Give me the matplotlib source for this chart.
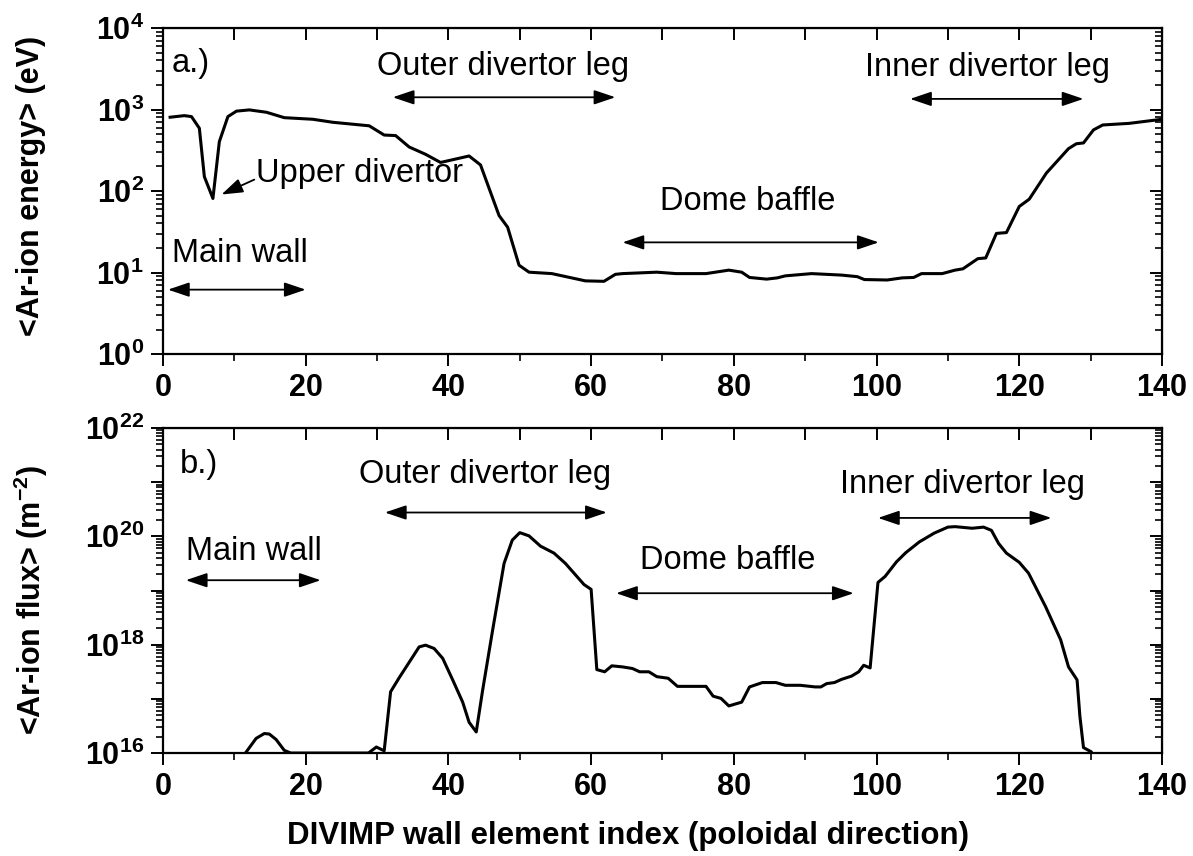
import numpy as np
import matplotlib
matplotlib.use("Agg")
import matplotlib.pyplot as plt
from matplotlib.ticker import LogLocator, FuncFormatter, MultipleLocator, NullFormatter

plt.rcParams['font.family'] = ['Liberation Sans', 'DejaVu Sans']
plt.rcParams['mathtext.fontset'] = 'custom'
plt.rcParams['mathtext.rm'] = 'Liberation Sans'
plt.rcParams['mathtext.bf'] = 'Liberation Sans:bold'

# panel a: mean Ar-ion energy (eV) vs wall element index
x_energy = [1, 3, 4, 5.1, 5.8, 7, 7.9, 9.1, 10.3, 12.1, 14.5, 17, 21, 23.8, 28.9,
            31, 32.6, 34.5, 36.8, 38.9, 42.9, 44.5, 47.1, 48.3, 49.9, 51.3, 54.5,
            59.2, 61.8, 63.4, 64.4, 69.2, 71.9, 76.1, 79.3, 81.1, 82.2, 84.6, 86.1,
            87.2, 90.9, 95.1, 97.3, 98.3, 101.5, 103.6, 105.2, 106.3, 109.2, 111.0,
            112.1, 114.2, 115.3, 116.8, 118.2, 120.0, 121.4, 123.8, 126.9, 128.0,
            129.0, 130.4, 131.7, 135.4, 140]
energy = [804, 841, 818, 589, 150, 81, 403, 818, 955, 989, 925, 794, 759, 697, 631,
          486, 479, 347, 282, 224, 269, 209, 50, 36, 12.3, 10.1, 9.7,
          7.9, 7.8, 9.5, 9.7, 10.1, 9.7, 9.7, 10.7, 10.1, 8.7, 8.3, 8.6,
          9.1, 9.7, 9.3, 8.9, 8.2, 8.1, 8.6, 8.7, 9.7, 9.7, 10.7,
          11.1, 14.8, 15.1, 30.2, 30.9, 64.6, 79.4, 166, 331, 380,
          389, 562, 646, 676, 759]

# panel b: mean Ar-ion flux (m^-2) vs wall element index
x_flux = [1, 11.0, 11.56, 13.05, 14.2, 14.9, 15.85, 17.0, 17.9, 28.8, 29.9, 31.0,
          31.9, 33.1, 35.9, 36.8, 38.0, 39.2, 40.6, 42.0, 42.9, 43.9, 44.8, 46.2,
          47.8, 48.95, 50.0, 51.3, 52.9, 54.8, 56.4, 59.0, 60.0, 60.8, 61.9, 62.9,
          64.4, 65.8, 66.8, 68.1, 69.2, 70.8, 72.1, 76.1, 77.1, 78.2, 79.3, 81.1,
          82.2, 84.0, 85.9, 87.2, 89.3, 91.4, 92.2, 93.0, 94.1, 95.1, 96.5, 97.5,
          98.2, 99.1, 100.2, 101.2, 102.8, 104.1, 106.0, 108.1, 110.0, 111.0,
          113.4, 115.0, 116.1, 117.1, 118.2, 120.0, 121.3, 123.7, 125.8, 126.9,
          128.1, 128.5, 129.0, 130.1, 131.0, 140]
flux = [1e15, 1e15, 1.0e16, 1.86e16, 2.29e16, 2.24e16, 1.78e16, 1.12e16, 1.0e16,
        1.0e16, 1.29e16, 1.10e16,
        1.35e17, 2.45e17, 9.1e17, 9.8e17, 8.5e17, 5.6e17, 2.24e17, 8.7e16, 3.7e16,
        2.45e16, 1.45e17, 1.86e18,
        3.16e19, 8.5e19, 1.17e20, 1.02e20, 6.6e19, 4.9e19, 3.16e19, 1.29e19,
        1.05e19, 3.47e17, 3.16e17, 4.07e17,
        3.89e17, 3.63e17, 3.16e17, 3.16e17, 2.57e17, 2.40e17, 1.70e17, 1.70e17,
        1.12e17, 1.02e17, 7.4e16, 8.7e16,
        1.66e17, 2.0e17, 2.0e17, 1.78e17, 1.78e17, 1.66e17, 1.66e17, 1.91e17,
        2.0e17, 2.29e17, 2.63e17, 3.16e17,
        4.17e17, 3.72e17, 1.41e19, 1.82e19, 3.39e19, 5.0e19, 7.9e19, 1.15e20,
        1.48e20, 1.51e20,
        1.41e20, 1.48e20, 1.29e20, 7.4e19, 4.9e19, 3.31e19, 2.09e19, 5.0e18,
        1.23e18, 3.89e17,
        2.24e17, 4.7e16, 1.26e16, 1.05e16, 1e15, 1e15]

# region labels: (text, text x, text y, arrow start, arrow end, arrow y)
regions_a = [("Main wall", 10.8, 10**1.23, 0.7, 20.0, 10**0.79),
             ("Outer divertor leg", 47.7, 10**3.53, 32.2, 63.4, 10**3.15),
             ("Dome baffle", 82.0, 10**1.87, 64.4, 100.3, 10**1.37),
             ("Inner divertor leg", 115.5, 10**3.51, 104.7, 129.0, 10**3.13)]
regions_b = [("Main wall", 12.7, 10**19.72, 3.2, 22.1, 10**19.19),
             ("Outer divertor leg", 45.2, 10**21.14, 31.1, 62.2, 10**20.44),
             ("Dome baffle", 79.1, 10**19.56, 63.5, 96.8, 10**18.95),
             ("Inner divertor leg", 112.1, 10**20.95, 100.2, 124.5, 10**20.34)]

fig = plt.figure(figsize=(11.93, 8.56), dpi=100)
ax1 = fig.add_axes([0.1366, 0.5864, 0.8374, 0.3809])
ax2 = fig.add_axes([0.1366, 0.1203, 0.8374, 0.3797])

arrow_style = "<|-|>,head_length=0.65,head_width=0.22"
TEXT_SIZE = 23.5


def style_axis(ax, ylim, label_every):
    ax.set_yscale('log')
    ax.set_xlim(0, 140)
    ax.set_ylim(*ylim)
    for s in ax.spines.values():
        s.set_linewidth(1.6)
    ax.xaxis.set_major_locator(MultipleLocator(20))
    ax.xaxis.set_minor_locator(MultipleLocator(10))
    ax.yaxis.set_major_locator(LogLocator(base=10, numticks=20))
    ax.yaxis.set_minor_locator(LogLocator(base=10, subs=np.arange(2, 10), numticks=20))
    ax.yaxis.set_minor_formatter(NullFormatter())

    def fmt(v, pos):
        e = int(round(np.log10(v)))
        if e % label_every:
            return ''
        return r'$\mathbf{10^{%d}}$' % e
    ax.yaxis.set_major_formatter(FuncFormatter(fmt))
    ax.tick_params(which='major', direction='out', length=8.6, width=1.4,
                   labelsize=22, pad=5)
    ax.tick_params(which='minor', direction='out', length=5, width=1.2)
    for t in ax.get_xticklabels():
        t.set_fontweight('bold')

    top = ax.secondary_xaxis('top')
    top.xaxis.set_major_locator(MultipleLocator(10))
    top.tick_params(direction='in', length=8.6, width=1.4, labeltop=False)
    right = ax.secondary_yaxis('right')
    right.yaxis.set_major_locator(LogLocator(base=10, numticks=20))
    right.yaxis.set_minor_locator(LogLocator(base=10, subs=np.arange(2, 10), numticks=20))
    right.tick_params(which='major', direction='in', length=8.6, width=1.4, labelright=False)
    right.tick_params(which='minor', direction='in', length=5, width=1.2, labelright=False)
    right.yaxis.set_minor_formatter(NullFormatter())


def add_regions(ax, regions):
    for text, tx, ty, xa, xb, ya in regions:
        ax.text(tx, ty, text, fontsize=TEXT_SIZE, ha='center', va='center')
        ax.annotate('', xy=(xb, ya), xytext=(xa, ya),
                    arrowprops=dict(arrowstyle=arrow_style, color='black', lw=1.3,
                                    mutation_scale=20, shrinkA=0, shrinkB=0))


# panel a
ax1.plot(x_energy, energy, color='black', lw=2.2)
style_axis(ax1, (1, 1e4), 1)
add_regions(ax1, regions_a)
ax1.text(1.2, 10**3.57, "a.)", fontsize=TEXT_SIZE, ha='left', va='center')
ax1.text(27.5, 10**2.215, "Upper divertor", fontsize=TEXT_SIZE, ha='center', va='center')
ax1.annotate('', xy=(8.2, 10**1.957), xytext=(12.8, 10**2.14),
             arrowprops=dict(arrowstyle="-|>,head_length=0.65,head_width=0.22",
                             color='black', lw=1.3, mutation_scale=20,
                             shrinkA=0, shrinkB=0))
ax1.set_ylabel('<Ar-ion energy> (eV)', fontsize=22, fontweight='bold')
ax1.yaxis.set_label_coords(-0.117, 0.515)

# panel b
ax2.plot(x_flux, flux, color='black', lw=2.2)
style_axis(ax2, (1e16, 1e22), 2)
add_regions(ax2, regions_b)
ax2.text(2.3, 10**21.32, "b.)", fontsize=TEXT_SIZE, ha='left', va='center')
ax2.set_ylabel(r'<Ar-ion flux> (m$\mathbf{^{-2}}$)', fontsize=22, fontweight='bold')
ax2.yaxis.set_label_coords(-0.113, 0.47)
ax2.set_xlabel('DIVIMP wall element index (poloidal direction)', fontsize=22.5,
               fontweight='bold')
ax2.xaxis.set_label_coords(0.465, -0.21)

fig.savefig('out.png', dpi=100)
